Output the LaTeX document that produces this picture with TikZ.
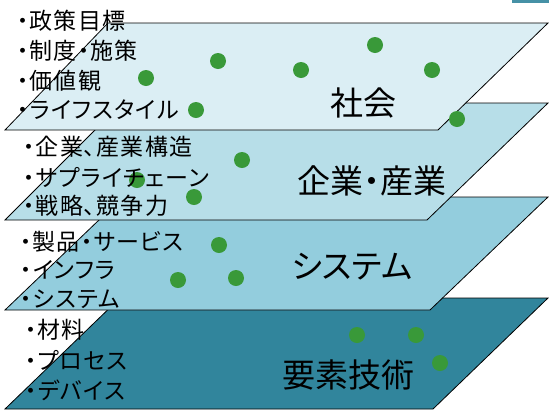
\documentclass[tikz,border=0pt]{standalone}
\usepackage{fontspec}
\newfontfamily\jp[RawFeature=+palt]{Noto Sans CJK JP}
\newfontfamily\jplist[RawFeature=+palt,LetterSpace=5]{Noto Sans CJK JP}
\definecolor{layerA}{HTML}{DBEEF4}
\definecolor{layerB}{HTML}{B7DEE8}
\definecolor{layerC}{HTML}{93CDDD}
\definecolor{layerD}{HTML}{31859C}
\definecolor{dotgreen}{RGB}{57,153,57}
\tikzset{
  layer/.style={draw=black,line width=0.8pt},
  item/.style={anchor=west,inner sep=0pt,font=\jplist\fontsize{23}{23}\selectfont},
  title/.style={inner sep=0pt,font=\jp\fontsize{33}{33}\selectfont},
  agent/.style={fill=dotgreen}
}
\begin{document}
\begin{tikzpicture}[x=1pt,y=-1pt]
\useasboundingbox (0,0) rectangle (549,416);

% corner of a box cut off at the top
\fill[layerD!90!white] (512,0) rectangle (549,3);

% Place layers, bottom first
\filldraw[layer,fill=layerD] (5,409) -- (433,409) -- (548,298) -- (120,298) -- cycle;
\filldraw[layer,fill=layerC] (5,310) -- (430,310) -- (548,197) -- (123,197) -- cycle;
\filldraw[layer,fill=layerB] (5,220) -- (427,220) -- (548,103) -- (122,103) -- cycle;
\filldraw[layer,fill=layerA] (5,130) -- (438,130) -- (548,23) -- (108,23) -- cycle;

% dots
\foreach \x/\y in {218/61,146/78,196/110,375/45,301/70,432/70,457/119,
                   242/160,137/180,194/197,
                   219/245,178/280,236/278,
                   357/335,416/335,440/363}
  \fill[agent] (\x,\y) circle (8);

% labels of the layers
\node[title] (society) at (363,103) {社会};
\node[title] (industry) at (372,181) {企業・産業};
\node[title] (system) at (352,267) {システム};
\node[title] (element) at (348,375) {要素技術};

% items
\node[item] (s1) at (17,21) {・政策目標};
\node[item] (s2) at (17,51) {・制度・施策};
\node[item] (s3) at (17,81) {・価値観};
\node[item] (s4) at (17,110) {・ライフスタイル};

\node[item] (i1) at (23,147) {・企業、産業構造};
\node[item] (i2) at (23,177) {・サプライチェーン};
\node[item] (i3) at (23,206) {・戦略、競争力};

\node[item] (y1) at (20,242) {・製品・サービス};
\node[item] (y2) at (20,270) {・インフラ};
\node[item] (y3) at (20,299) {・システム};

\node[item] (e1) at (25,330) {・材料};
\node[item] (e2) at (25,360) {・プロセス};
\node[item] (e3) at (25,390) {・デバイス};
\end{tikzpicture}
\end{document}
